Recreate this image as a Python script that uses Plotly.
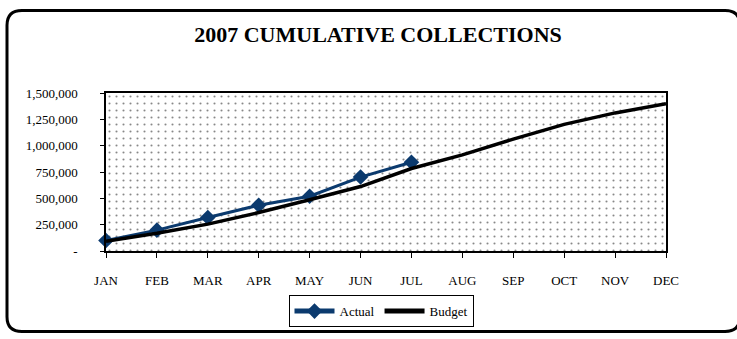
import plotly.graph_objects as go

months = ["JAN", "FEB", "MAR", "APR", "MAY", "JUN", "JUL", "AUG", "SEP", "OCT", "NOV", "DEC"]
actual = [100000, 198000, 318000, 435000, 520000, 702000, 843000]
budget = [93000, 168000, 255000, 365000, 487000, 612000, 783000, 913000, 1062000, 1202000, 1311000, 1398000]
y_ticks = [0, 250000, 500000, 750000, 1000000, 1250000, 1500000]
y_tick_labels = ["-", "250,000", "500,000", "750,000", "1,000,000", "1,250,000", "1,500,000"]

W, H = 737, 339
L, R, T, B = 106, 71, 93, 85
pw, ph = W - L - R, H - T - B

def px(x):
    return (x - L) / pw

def py(y):
    return (H - B - y) / ph

FONT = "Liberation Serif"

fig = go.Figure()

# dotted plot-area background
fig.add_trace(go.Scatter(
    x=[months[0], months[-1], months[-1], months[0], months[0]],
    y=[y_ticks[0], y_ticks[0], y_ticks[-1], y_ticks[-1], y_ticks[0]],
    fill="toself", mode="none", fillcolor="white",
    fillpattern=dict(shape=".", size=7, solidity=0.07, fgcolor="#111111", bgcolor="white"),
    showlegend=False, hoverinfo="skip"))

fig.add_trace(go.Scatter(
    x=months[:len(actual)], y=actual, name="Actual", mode="lines+markers",
    line=dict(color="#0b3a6e", width=3),
    marker=dict(symbol="diamond", size=12, color="#0b3a6e"),
    cliponaxis=False))
fig.add_trace(go.Scatter(
    x=months, y=budget, name="Budget", mode="lines",
    line=dict(color="black", width=3.5),
    cliponaxis=False))

# rounded outer border
x0, x1, y0, y1, r = 7, 740, 9, 336, 15
path = (f"M {px(x0+r)},{py(y0)} L {px(x1-r)},{py(y0)} Q {px(x1)},{py(y0)} {px(x1)},{py(y0+r)} "
        f"L {px(x1)},{py(y1-r)} Q {px(x1)},{py(y1)} {px(x1-r)},{py(y1)} "
        f"L {px(x0+r)},{py(y1)} Q {px(x0)},{py(y1)} {px(x0)},{py(y1-r)} "
        f"L {px(x0)},{py(y0+r)} Q {px(x0)},{py(y0)} {px(x0+r)},{py(y0)} Z")
fig.add_shape(type="path", path=path, xref="paper", yref="paper",
              line=dict(color="black", width=3), layer="above")

fig.update_layout(
    width=W, height=H,
    margin=dict(l=L, r=R, t=T, b=B),
    paper_bgcolor="white", plot_bgcolor="white",
    font=dict(family=FONT, size=13, color="black"),
    title=dict(text="<b>2007 CUMULATIVE COLLECTIONS</b>", x=378 / W, xanchor="center",
               y=1 - 34 / H, yanchor="middle", font=dict(family=FONT, size=22, color="black")),
    legend=dict(orientation="h", x=px(381), xanchor="center", y=py(299), yanchor="top",
                bordercolor="black", borderwidth=1, bgcolor="white",
                font=dict(family=FONT, size=13), itemwidth=40, tracegroupgap=0,
                itemsizing="constant"),
    showlegend=True,
)
fig.update_xaxes(type="category", categoryorder="array", categoryarray=months,
                 range=[0, len(months) - 1], showgrid=False,
                 showline=True, linecolor="black", linewidth=1.5, mirror=True,
                 ticks="outside", ticklen=5, tickcolor="black", ticklabelstandoff=12,
                 tickfont=dict(family=FONT, size=13))
fig.update_yaxes(range=[y_ticks[0], y_ticks[-1]], tickvals=y_ticks, ticktext=y_tick_labels,
                 showgrid=True, gridcolor="black", gridwidth=1,
                 showline=True, linecolor="black", linewidth=1.5, mirror=True,
                 ticks="outside", ticklen=4, tickcolor="black", zeroline=False,
                 ticklabelstandoff=20,
                 tickfont=dict(family=FONT, size=13))

fig.write_html("out.html")
